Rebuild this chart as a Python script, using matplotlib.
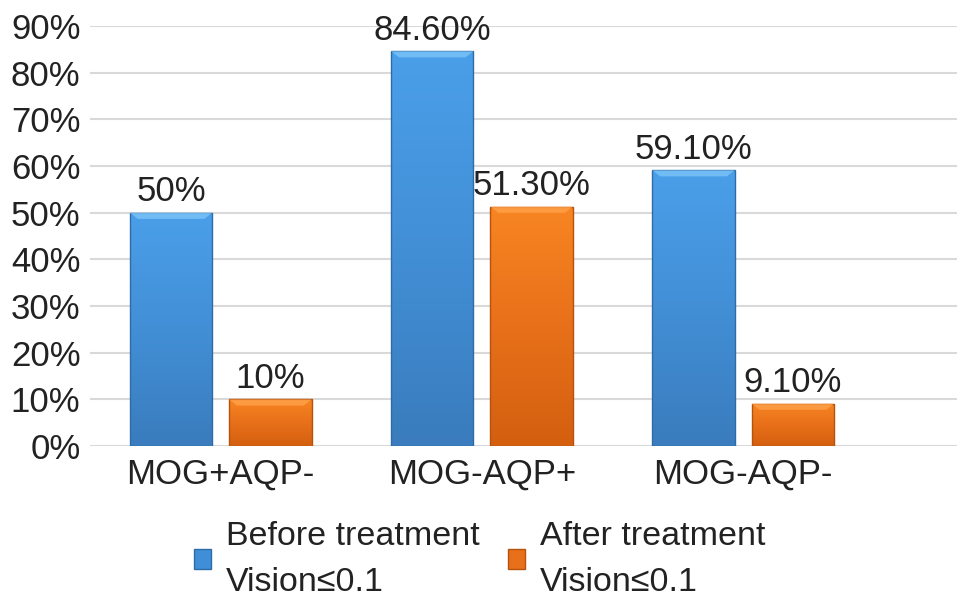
import numpy as np
import matplotlib.pyplot as plt
from matplotlib.colors import LinearSegmentedColormap
from matplotlib.patches import Patch

categories = ['MOG+AQP-', 'MOG-AQP+', 'MOG-AQP-']
before = [50.0, 84.6, 59.1]
after = [10.0, 51.3, 9.1]
before_labels = ['50%', '84.60%', '59.10%']
after_labels = ['10%', '51.30%', '9.10%']
series_names = ['Before treatment\nVision\u22640.1', 'After treatment\nVision\u22640.1']

plt.rcParams['font.family'] = ['Liberation Sans', 'DejaVu Sans']

blue_cmap = LinearSegmentedColormap.from_list('b', ['#3a7cbd', '#428fd6', '#4a9fe9'])
orange_cmap = LinearSegmentedColormap.from_list('o', ['#d35f0f', '#e8701a', '#f88522'])

fig = plt.figure(figsize=(9.69, 6.07), dpi=100)
ax = fig.add_axes([0.093, 0.265, 0.895, 0.692])

x = np.arange(len(categories))
w = 0.315
off = 0.19
fs = 25


def gradient_bars(xs, vals, cmap, edge, top):
    bars = ax.bar(xs, vals, w, color='none', edgecolor=edge, linewidth=1.0, zorder=3)
    grad = np.linspace(0, 1, 256).reshape(-1, 1)
    for b in bars:
        x0, y0 = b.get_x(), b.get_y()
        x1, y1 = x0 + b.get_width(), y0 + b.get_height()
        im = ax.imshow(grad, cmap=cmap, origin='lower', aspect='auto',
                       extent=(x0, x1, y0, y1), zorder=2)
        im.set_clip_path(b)
        # light bevel on top
        ax.fill([x0, x1, x1 - 0.03, x0 + 0.03], [y1, y1, y1 - 1.3, y1 - 1.3],
                color=top, alpha=0.8, zorder=3, lw=0)
    return bars


gradient_bars(x - off, before, blue_cmap, '#2f6ba6', '#7cc4f8')
gradient_bars(x + off, after, orange_cmap, '#b5520c', '#ffa24a')

for xi, v, s in zip(x - off, before, before_labels):
    ax.text(xi, v + 1.0, s, ha='center', va='bottom', fontsize=fs, color='#222222')
for xi, v, s in zip(x + off, after, after_labels):
    ax.text(xi, v + 1.0, s, ha='center', va='bottom', fontsize=fs, color='#222222')

ax.set_xlim(-0.5, 2.82)
ax.set_ylim(0, 90)
ax.set_yticks(np.arange(0, 91, 10))
ax.set_yticklabels([f'{t}%' for t in range(0, 91, 10)])
ax.set_xticks(x)
ax.set_xticklabels(categories)
ax.tick_params(axis='both', length=0, labelsize=fs, colors='#222222')
ax.tick_params(axis='x', pad=8)
ax.tick_params(axis='y', pad=7)
ax.yaxis.grid(True, color='#d9d9d9', linewidth=1.5, zorder=0)
ax.set_axisbelow(True)
for sp in ax.spines.values():
    sp.set_visible(False)

handles = [Patch(facecolor='#3f8fd8', edgecolor='#2f6ba6'),
           Patch(facecolor='#e8701a', edgecolor='#b5520c')]
leg = fig.legend(handles, series_names, loc='lower center', bbox_to_anchor=(0.495, -0.035),
                 ncol=2, frameon=False, fontsize=24.5, handlelength=0.5, handleheight=0.5,
                 handletextpad=0.43, columnspacing=0.85)
for t in leg.get_texts():
    t.set_linespacing(1.62)
    t.set_color('#222222')

fig.savefig('out.png', dpi=100)
